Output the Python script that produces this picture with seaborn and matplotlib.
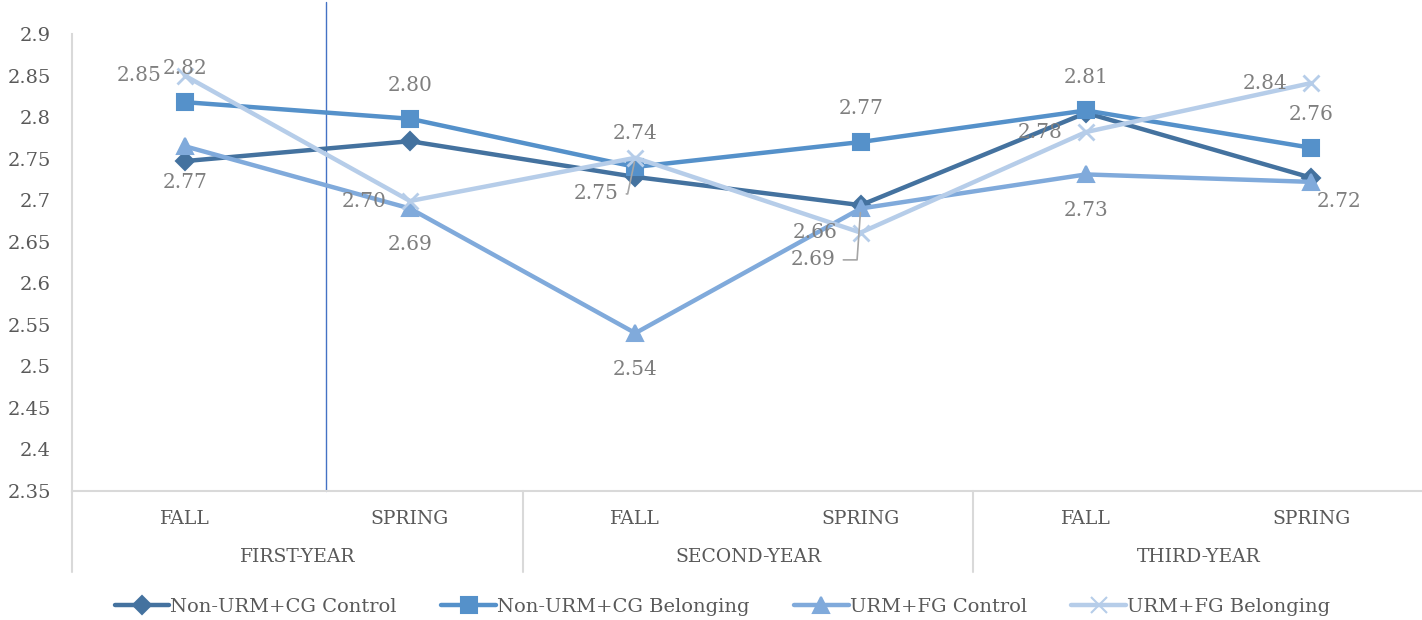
import numpy as np
import pandas as pd
import matplotlib
matplotlib.use("Agg")
import matplotlib.pyplot as plt
import seaborn as sns
from matplotlib.lines import Line2D

# ---- data ----
terms = ["FALL", "SPRING", "FALL", "SPRING", "FALL", "SPRING"]
years = ["FIRST-YEAR", "SECOND-YEAR", "THIRD-YEAR"]
series_names = ["Non-URM+CG Control", "Non-URM+CG Belonging", "URM+FG Control", "URM+FG Belonging"]
nonurm_control = [2.747, 2.771, 2.728, 2.694, 2.805, 2.727]
nonurm_belonging = [2.818, 2.798, 2.740, 2.770, 2.808, 2.763]
urm_control = [2.765, 2.690, 2.540, 2.690, 2.731, 2.722]
urm_belonging = [2.850, 2.699, 2.751, 2.661, 2.782, 2.841]
labels_nonurm_belonging = ["2.82", "2.80", "2.74", "2.77", "2.81", "2.76"]
labels_urm_control = ["2.77", "2.69", "2.54", "2.69", "2.73", "2.72"]
labels_urm_belonging = ["2.85", "2.70", "2.75", "2.66", "2.78", "2.84"]
y_ticks = [2.35, 2.4, 2.45, 2.5, 2.55, 2.6, 2.65, 2.7, 2.75, 2.8, 2.85, 2.9]

values = [nonurm_control, nonurm_belonging, urm_control, urm_belonging]

colors = {
    "Non-URM+CG Control": "#44729F",
    "Non-URM+CG Belonging": "#5591CA",
    "URM+FG Control": "#80AADB",
    "URM+FG Belonging": "#B6CDE9",
}
markers = {
    "Non-URM+CG Control": "D",
    "Non-URM+CG Belonging": "s",
    "URM+FG Control": "^",
    "URM+FG Belonging": "x",
}
msizes = {"D": 9, "s": 12, "^": 12, "x": 12}

sns.set_theme(style="white")
plt.rcParams["font.family"] = ["DejaVu Serif"]

fig = plt.figure(figsize=(14.22, 6.2), dpi=100)
W, H = 1422, 620
ax_left, ax_right, ax_top, ax_bot = 72, 1424, 34, 491
ax = fig.add_axes([ax_left / W, 1 - ax_bot / H, (ax_right - ax_left) / W, (ax_bot - ax_top) / H])

for name, vals in zip(series_names, values):
    d = pd.DataFrame({"idx": range(len(vals)), "value": vals})
    m = markers[name]
    sns.lineplot(data=d, x="idx", y="value", color=colors[name], marker=m,
                 markersize=msizes[m], markeredgecolor=colors[name],
                 markeredgewidth=2 if m == "x" else 1.5, linewidth=3.2, ax=ax, zorder=3)

ax.set_xlim(-0.5, 5.5)
ax.set_ylim(2.35, 2.9)
ax.set_yticks(y_ticks)
ax.set_yticklabels([f"{t:g}" for t in y_ticks], fontsize=14, color="#595959")
ax.tick_params(axis="y", length=0, pad=15)
ax.set_xticks(range(6))
ax.set_xticklabels(terms, fontsize=13.5, color="#595959")
ax.tick_params(axis="x", length=0, pad=14)
ax.set_xlabel("")
ax.set_ylabel("")
for s in ["top", "right"]:
    ax.spines[s].set_visible(False)
ax.spines["left"].set_color("#D9D9D9")
ax.spines["bottom"].set_color("#D9D9D9")
ax.spines["left"].set_linewidth(1.5)
ax.spines["bottom"].set_linewidth(1.5)

# category separators below axis
axh = ax_bot - ax_top
sep_bottom = -(572 - ax_bot) / axh
trans = matplotlib.transforms.blended_transform_factory(ax.transData, ax.transAxes)
for xs in [-0.5, 1.5, 3.5, 5.5]:
    ax.plot([xs, xs], [0, sep_bottom], transform=trans, color="#D9D9D9", lw=1.5, clip_on=False)
for gi, g in enumerate(years):
    ax.text(gi * 2 + 0.5, -(557 - ax_bot) / axh, g, transform=trans, ha="center", va="center",
            fontsize=13.5, color="#595959")

# vertical blue line
ax.plot([0.625, 0.625], [0, (ax_bot - 2) / axh], transform=trans, color="#4472C4", lw=1.0,
        clip_on=False, zorder=2)

# data labels
lab_color = "#7F7F7F"
fs = 14.5
leader = dict(arrowstyle="-", color="#A6A6A6", lw=1.2, shrinkA=3, shrinkB=3, relpos=(1.0, 0.5))
for i, (v, t) in enumerate(zip(nonurm_belonging, labels_nonurm_belonging)):
    ax.annotate(t, (i, v), xytext=(0, 24), textcoords="offset points", ha="center", va="center",
                fontsize=fs, color=lab_color)
for i, (v, t) in enumerate(zip(urm_belonging, labels_urm_belonging)):
    if i == 2:
        ax.annotate(t, (i, v), xytext=(-28, -26), textcoords="offset points", ha="center", va="center",
                    fontsize=fs, color=lab_color,
                    arrowprops=dict(leader, connectionstyle="angle,angleA=0,angleB=78,rad=0"))
    else:
        ax.annotate(t, (i, v), xytext=(-33, 0), textcoords="offset points", ha="center", va="center",
                    fontsize=fs, color=lab_color)
for i, (v, t) in enumerate(zip(urm_control, labels_urm_control)):
    if i == 3:
        ax.annotate(t, (i, v), xytext=(-34, -37), textcoords="offset points", ha="center", va="center",
                    fontsize=fs, color=lab_color,
                    arrowprops=dict(leader, connectionstyle="angle,angleA=0,angleB=86,rad=0"))
    elif i == 5:
        ax.annotate(t, (i, v), xytext=(20, -14), textcoords="offset points", ha="center", va="center",
                    fontsize=fs, color=lab_color)
    else:
        ax.annotate(t, (i, v), xytext=(0, -26), textcoords="offset points", ha="center", va="center",
                    fontsize=fs, color=lab_color)

# legend
handles = []
for name in series_names:
    m = markers[name]
    handles.append(Line2D([0], [0], color=colors[name], lw=3.2, marker=m,
                          markersize=9 if m == "D" else 11,
                          markeredgecolor=colors[name], markeredgewidth=1.5))
fig.legend(handles, series_names, loc="center", bbox_to_anchor=(0.508, 1 - 607 / H), ncol=4,
           frameon=False, fontsize=14, handlelength=2.8, handletextpad=0.05, columnspacing=2.3,
           labelcolor="#595959")

fig.savefig("out.png", dpi=100)
